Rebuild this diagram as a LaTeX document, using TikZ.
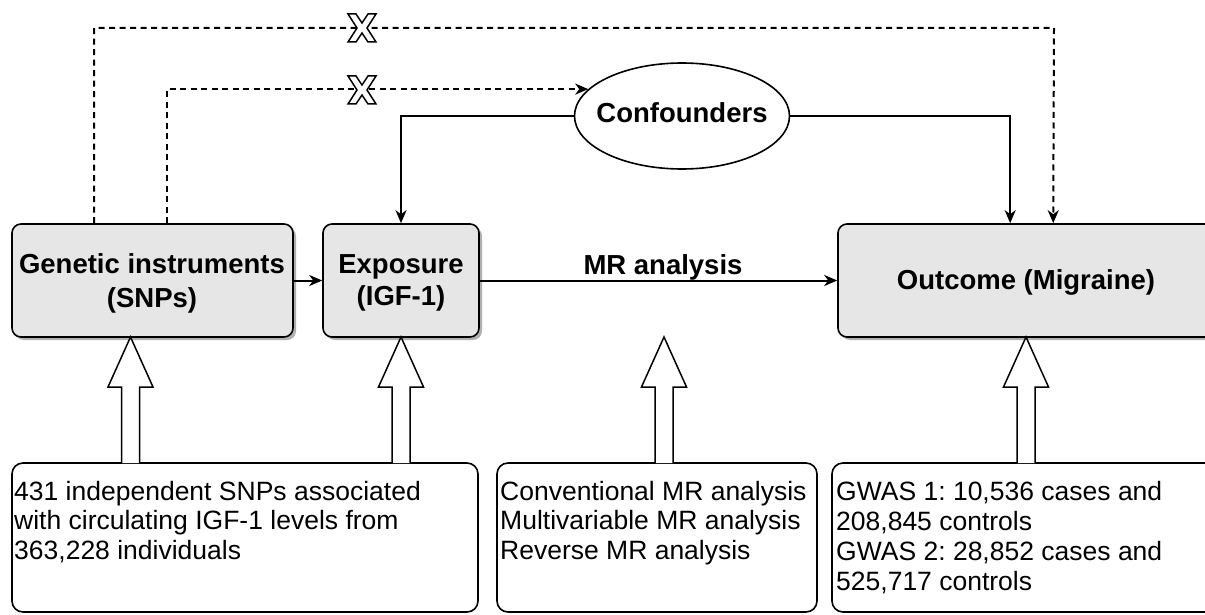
\documentclass[tikz,border=0pt]{standalone}
\usepackage{fontspec}
\setmainfont{Liberation Sans}
\usetikzlibrary{shapes.geometric,arrows.meta,shadows,calc}
\definecolor{boxgray}{HTML}{E6E6E6}
\definecolor{shadowgray}{HTML}{B0B0B0}
\frenchspacing
\newcommand{\xmarkat}[2]{%
  \draw[xm, shift={(#1,#2)}] (-14,-14) -- (-6,-14) -- (0,-5) -- (6,-14) -- (14,-14) -- (5,0) -- (14,14) -- (6,14) -- (0,5) -- (-6,14) -- (-14,14) -- (-5,0) -- cycle;}
\newcommand{\blockup}[3]{% x, bottom y, tip y
  \draw[blockarr] ({#1-9},#2) -- ({#1-9},{#3+50}) -- ({#1-22.5},{#3+50}) -- (#1,#3) -- ({#1+22.5},{#3+50}) -- ({#1+9},{#3+50}) -- ({#1+9},#2);}
\begin{document}
\begin{tikzpicture}[x=1pt,y=-1pt,
  graybox/.style={draw=black, line width=1.6pt, fill=boxgray, rounded corners=9pt, inner sep=0pt,
    drop shadow={shadow xshift=3pt, shadow yshift=-3pt, fill=shadowgray, opacity=1}},
  whitebox/.style={draw=black, line width=1.6pt, fill=white, rounded corners=11pt, inner sep=0pt},
  bold/.style={font=\fontsize{27.5}{33}\selectfont\bfseries, inner sep=0pt},
  txt/.style={font=\fontsize{26.5}{29.5}\selectfont, inner sep=0pt, anchor=base west},
  arr/.style={line width=2pt, -{Stealth[length=13pt,width=11pt,inset=4pt]}},
  dasharr/.style={line width=2pt, dash pattern=on 6pt off 4.5pt, -{Stealth[length=13pt,width=11pt,inset=4pt]}},
  blockarr/.style={draw=black, fill=white, line width=1.5pt, line join=miter},
  xm/.style={draw=black, fill=white, line width=1.5pt, line join=miter}
]
\useasboundingbox (0,0) rectangle (1205,615);
\clip (0,0) rectangle (1205,615);
\fill[white] (0,0) rectangle (1205,615);

% main boxes
\node[graybox, minimum width=281pt, minimum height=113pt] (gen) at (152.5,280.5) {};
\node[graybox, minimum width=156pt, minimum height=113pt] (exp) at (401,280.5) {};
\node[graybox, minimum width=392pt, minimum height=113pt] (out) at (1034,280.5) {};
\node[draw=black, line width=1.6pt, fill=white, ellipse, inner sep=0pt,
      minimum width=215pt, minimum height=106pt] (conf) at (682,116) {};
\node[bold, anchor=base] (conft) at (682,123) {Confounders};

\node[bold, anchor=base] (gent1) at (152,273) {Genetic instruments};
\node[bold, anchor=base] (gent2) at (152,307) {(SNPs)};
\node[bold, anchor=base] (expt1) at (401,273) {Exposure};
\node[bold, anchor=base] (expt2) at (401,305) {(IGF-1)};
\node[bold, anchor=base] (outt) at (1026,289) {Outcome (Migraine)};
\node[bold, anchor=base] (mr) at (663,274) {MR analysis};

% bottom boxes
\node[whitebox, minimum width=466pt, minimum height=149pt] (b1) at (245,537.5) {};
\node[whitebox, minimum width=320pt, minimum height=149pt] (b2) at (657,537.5) {};
\node[whitebox, minimum width=398pt, minimum height=149pt] (b3) at (1031,537.5) {};

\node[txt] (b1l1) at (14,500) {431 independent SNPs associated};
\node[txt] (b1l2) at (14,529.5) {with circulating IGF-1 levels from};
\node[txt] (b1l3) at (14,559) {363,228 individuals};
\node[txt] (b2l1) at (500,500) {Conventional MR analysis};
\node[txt] (b2l2) at (500,529.5) {Multivariable MR analysis};
\node[txt] (b2l3) at (500,559) {Reverse MR analysis};
\node[txt] (b3l1) at (836,500) {GWAS 1: 10,536 cases and};
\node[txt] (b3l2) at (836,530) {208,845 controls};
\node[txt] (b3l3) at (836,560) {GWAS 2: 28,852 cases and};
\node[txt] (b3l4) at (836,590) {525,717 controls};

% block arrows
\blockup{130.5}{463}{337}
\blockup{401}{463}{337}
\blockup{664}{463}{337}
\blockup{1026}{463}{337}

% connectors
\draw[arr] (gen) -- (exp);
\draw[arr] (exp) -- (out);
\draw[arr] (conf.west) -| (exp.north);
\coordinate (outin) at ($(out.north west)+(173,0)$);
\draw[arr] (conf.east) -| (outin);

\coordinate (t1) at (1054,28);
\coordinate (outdash) at ($(out.north west)+(216,0)$);
\draw[dasharr] (gen.north west) ++(83,0) |- (t1) -- (outdash);
\draw[dasharr] (gen.north west) ++(156,0) |- (conf.164);

\xmarkat{362}{28}
\xmarkat{362}{90}
\end{tikzpicture}
\end{document}
